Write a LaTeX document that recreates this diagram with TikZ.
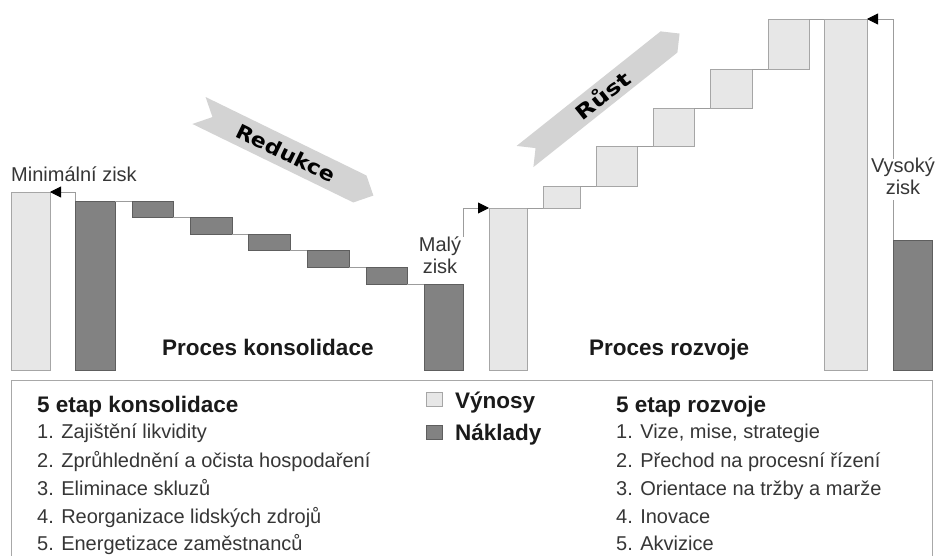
\documentclass[tikz,border=0pt]{standalone}
\usepackage{fontspec}
\setmainfont{Liberation Sans}
\newfontfamily\bandfont{DejaVu Sans}
\usetikzlibrary{arrows.meta}
\definecolor{lightfill}{HTML}{E7E7E7}
\definecolor{lightedge}{HTML}{A6A6A6}
\definecolor{darkfill}{HTML}{828282}
\definecolor{darkedge}{HTML}{5E5E5E}
\definecolor{bandfill}{HTML}{D3D3D3}
\definecolor{connc}{HTML}{9C9C9C}
\definecolor{textgray}{HTML}{363636}
\definecolor{titlec}{HTML}{1A1A1A}
\definecolor{boxc}{HTML}{A8A8A8}
\tikzset{
  light/.style={draw=lightedge, fill=lightfill, line width=0.9pt, inner sep=0pt, outer sep=0pt, anchor=north west},
  dark/.style={draw=darkedge, fill=darkfill, line width=0.9pt, inner sep=0pt, outer sep=0pt, anchor=north west},
  conn/.style={draw=connc, line width=0.9pt},
  arr/.style={conn, -{Triangle[length=11pt, width=11pt, color=black]}},
  band/.style={fill=bandfill},
  bandtext/.style={font=\bandfont\bfseries\fontsize{20}{20}\selectfont, text=black, inner sep=0pt},
  lbl/.style={font=\fontsize{20}{22}\selectfont, text=textgray, inner sep=0pt},
  ttl/.style={font=\bfseries\fontsize{22.5}{24}\selectfont, text=titlec, inner sep=0pt, anchor=base west},
  item/.style={lbl, anchor=base west},
  cover/.style={lbl, fill=white, anchor=base, inner sep=0pt},
}
\begin{document}
\begin{tikzpicture}[x=1pt, y=-1pt]
\useasboundingbox (0,0) rectangle (935,556);
\clip (0,0) rectangle (935,556);
\fill[white] (0,0) rectangle (935,556);

% ---- arrows (bands)
\begin{scope}[shift={(199,110.5)}, rotate=-26]
  \fill[band] (0,-15) -- (179,-15) -- (194,0) -- (179,15) -- (0,15) -- (15,0) -- cycle;
  \node[bandtext, rotate=-26] (redukce) at (97,0) {\scalebox{1.12}[1]{Redukce}};
\end{scope}
\begin{scope}[shift={(525,156.5)}, rotate=38.5]
  \fill[band] (0,-13.5) -- (184,-13.5) -- (197.5,0) -- (184,13.5) -- (0,13.5) -- (13.5,0) -- cycle;
  \node[bandtext, rotate=38.5] (rust) at (99,0) {\scalebox{1.25}[1]{Růst}};
\end{scope}

% ---- consolidation bars
\node[light, minimum width=39pt, minimum height=178pt] (L0) at (11,192) {};
\node[dark, minimum width=40pt, minimum height=169pt] (D0) at (75,201) {};
\node[dark, minimum width=41pt, minimum height=16pt] (S1) at (132,201) {};
\node[dark, minimum width=42pt, minimum height=17pt] (S2) at (190,217) {};
\node[dark, minimum width=42pt, minimum height=16pt] (S3) at (248,234) {};
\node[dark, minimum width=42pt, minimum height=17pt] (S4) at (307,250) {};
\node[dark, minimum width=41pt, minimum height=17pt] (S5) at (366,267) {};
\node[dark, minimum width=39pt, minimum height=86pt] (D6) at (424,284) {};

% ---- growth bars
\node[light, minimum width=38pt, minimum height=162pt] (G0) at (489,208) {};
\node[light, minimum width=37pt, minimum height=22pt] (R1) at (543,186) {};
\node[light, minimum width=41pt, minimum height=40pt] (R2) at (596,146) {};
\node[light, minimum width=41pt, minimum height=38pt] (R3) at (653,108) {};
\node[light, minimum width=42pt, minimum height=39pt] (R4) at (710,69) {};
\node[light, minimum width=41pt, minimum height=50pt] (R5) at (768,19) {};
\node[light, minimum width=43pt, minimum height=351pt] (T) at (824,19) {};
\node[dark, minimum width=39pt, minimum height=130pt] (D7) at (893,240) {};

% ---- connectors
\draw[arr] (D0.north west) |- (L0.north east);
\draw[conn] (D0.north east) -- (S1.north west);
\draw[conn] (S1.south east) -- (S2.north west);
\draw[conn] (S2.south east) -- (S3.north west);
\draw[conn] (S3.south east) -- (S4.north west);
\draw[conn] (S4.south east) -- (S5.north west);
\draw[conn] (S5.south east) -- (D6.north west);
\draw[arr] (D6.north east) |- (G0.north west);
\draw[conn] (G0.north east) -- (R1.south west);
\draw[conn] (R1.north east) -- (R2.south west);
\draw[conn] (R2.north east) -- (R3.south west);
\draw[conn] (R3.north east) -- (R4.south west);
\draw[conn] (R4.north east) -- (R5.south west);
\draw[conn] (R5.north east) -- (T.north west);
\draw[arr] (D7.north west) |- (T.north east);

% ---- chart labels
\node[lbl, anchor=base west] (minzisk) at (11,182) {Minimální zisk};
\node[cover, minimum width=50pt, text height=15pt, text depth=6pt] (maly1) at (440,252) {Malý};
\node[cover, minimum width=50pt, text height=15pt, text depth=11pt] (maly2) at (440,273) {zisk};
\node[cover, minimum width=66pt, text height=14pt, text depth=5pt] (vys1) at (903,173) {Vysoký};
\node[cover, minimum width=66pt, text height=17pt, text depth=5pt] (vys2) at (903,195) {zisk};
\node[ttl] (pk) at (162,355) {Proces konsolidace};
\node[ttl] (pr) at (589,355) {Proces rozvoje};

% ---- legend frame
\draw[boxc, line width=0.9pt] (11,580) -- (11,380) -- (932,380) -- (932,580);

\node[ttl] (h1) at (37,412) {5 etap konsolidace};
\node[item] (k1) at (37,438) {1. Zajištění likvidity};
\node[item] (k2) at (37,467) {2. Zprůhlednění a očista hospodaření};
\node[item] (k3) at (37,495) {3. Eliminace skluzů};
\node[item] (k4) at (37,523) {4. Reorganizace lidských zdrojů};
\node[item] (k5) at (37,550) {5. Energetizace zaměstnanců};

\node[light, minimum width=16pt, minimum height=14pt] (keyV) at (426,392) {};
\node[dark, minimum width=16pt, minimum height=14pt] (keyN) at (426,425) {};
\node[ttl] (vyn) at (455,408) {Výnosy};
\node[ttl] (nak) at (455,440) {Náklady};

\node[ttl] (h2) at (616,412) {5 etap rozvoje};
\node[item] (r1) at (616,438) {1. Vize, mise, strategie};
\node[item] (r2) at (616,467) {2. Přechod na procesní řízení};
\node[item] (r3) at (616,495) {3. Orientace na tržby a marže};
\node[item] (r4) at (616,523) {4. Inovace};
\node[item] (r5) at (616,550) {5. Akvizice};
\end{tikzpicture}
\end{document}
